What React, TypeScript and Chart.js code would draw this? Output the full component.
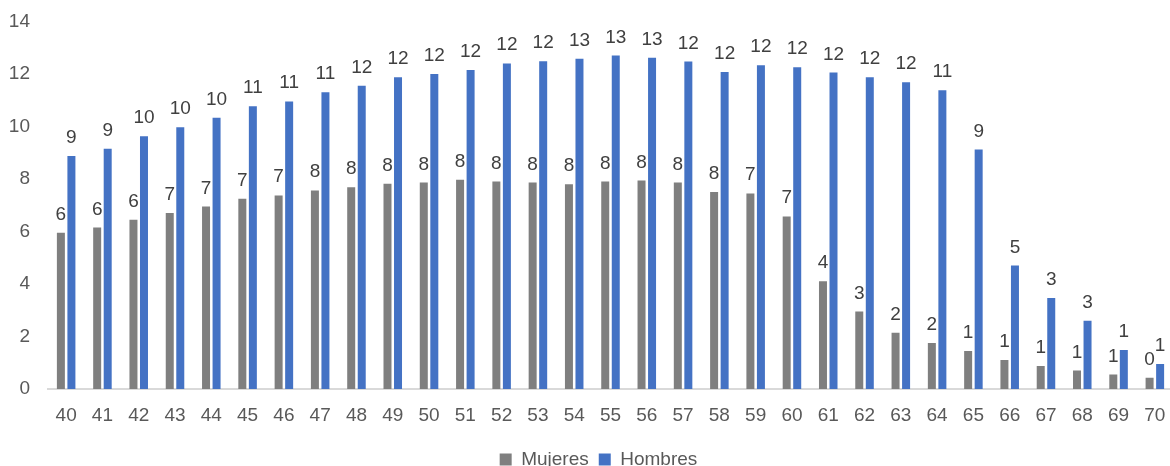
import React, { useEffect, useRef } from "react";
import { Chart, registerables } from "chart.js";

Chart.register(...registerables);

const ages = ["40","41","42","43","44","45","46","47","48","49","50","51","52","53","54","55","56","57","58","59","60","61","62","63","64","65","66","67","68","69","70"];
const mujeres = [5.95,6.15,6.45,6.7,6.95,7.25,7.37,7.56,7.68,7.82,7.86,7.97,7.9,7.86,7.8,7.9,7.94,7.86,7.5,7.45,6.57,4.1,2.95,2.14,1.75,1.45,1.1,0.88,0.7,0.55,0.43];
const hombres = [8.87,9.15,9.63,9.97,10.33,10.77,10.95,11.3,11.55,11.87,12.0,12.15,12.4,12.48,12.58,12.7,12.62,12.47,12.07,12.33,12.25,12.05,11.87,11.68,11.38,9.12,4.7,3.47,2.6,1.49,0.95];
const yMin = 0;
const yMax = 14;
const yStep = 2;

const FONT = "'Liberation Sans', Arial, sans-serif";

const valueLabels = {
  id: "valueLabels",
  afterDatasetsDraw(chart: any) {
    const ctx = chart.ctx;
    ctx.save();
    ctx.font = `19px ${FONT}`;
    ctx.fillStyle = "#404040";
    ctx.textAlign = "center";
    ctx.textBaseline = "alphabetic";
    chart.data.datasets.forEach((ds: any, i: number) => {
      const meta = chart.getDatasetMeta(i);
      meta.data.forEach((el: any, j: number) => {
        ctx.fillText(String(Math.round(ds.data[j])), el.x, el.y - 13);
      });
    });
    ctx.restore();
  },
};

const legendShift = {
  id: "legendShift",
  afterLayout(chart: any) {
    const lg = chart.legend;
    if (!lg || lg.__shifted) return;
    const orig = lg.draw.bind(lg);
    lg.draw = (...args: any[]) => {
      chart.ctx.save();
      chart.ctx.translate(10, 0);
      orig(...args);
      chart.ctx.restore();
    };
    lg.__shifted = true;
  },
};

export default function App() {
  const ref = useRef<HTMLCanvasElement>(null);
  useEffect(() => {
    if (!ref.current) return;
    const chart = new Chart(ref.current, {
      type: "bar",
      data: {
        labels: ages,
        datasets: [
          { label: "Mujeres", data: mujeres, backgroundColor: "#7f7f7f", barPercentage: 0.76, categoryPercentage: 0.58 },
          { label: "Hombres", data: hombres, backgroundColor: "#4472c4", barPercentage: 0.76, categoryPercentage: 0.58 },
        ],
      },
      options: {
        animation: false,
        responsive: false,
        devicePixelRatio: 1,
        layout: { padding: { left: 4, right: 23, top: 6, bottom: 0 } },
        plugins: {
          legend: {
            position: "bottom",
            labels: {
              boxWidth: 12,
              boxHeight: 12,
              padding: 10,
              color: "#595959",
              font: { family: FONT, size: 19 },
            },
          },
          tooltip: { enabled: false },
        },
        scales: {
          x: {
            grid: { display: false },
            border: { display: true, color: "#d9d9d9", width: 2 },
            ticks: { color: "#595959", font: { family: FONT, size: 19 }, padding: 7 },
            afterFit: (s: any) => { s.height = 51; },
          },
          y: {
            min: yMin,
            max: yMax,
            afterFit: (s: any) => { s.width = 44; },
            grid: { display: false },
            border: { display: false },
            ticks: { stepSize: yStep, color: "#595959", font: { family: FONT, size: 19 }, padding: 10 },
          },
        },
      },
      plugins: [valueLabels, legendShift],
    });
    return () => chart.destroy();
  }, []);
  return (
    <div style={{ position: "fixed", left: 0, top: 0, width: 1170, height: 466, overflow: "hidden", background: "#fff" }}>
      <canvas ref={ref} width={1196} height={479} style={{ width: 1196, height: 479 }} />
    </div>
  );
}
